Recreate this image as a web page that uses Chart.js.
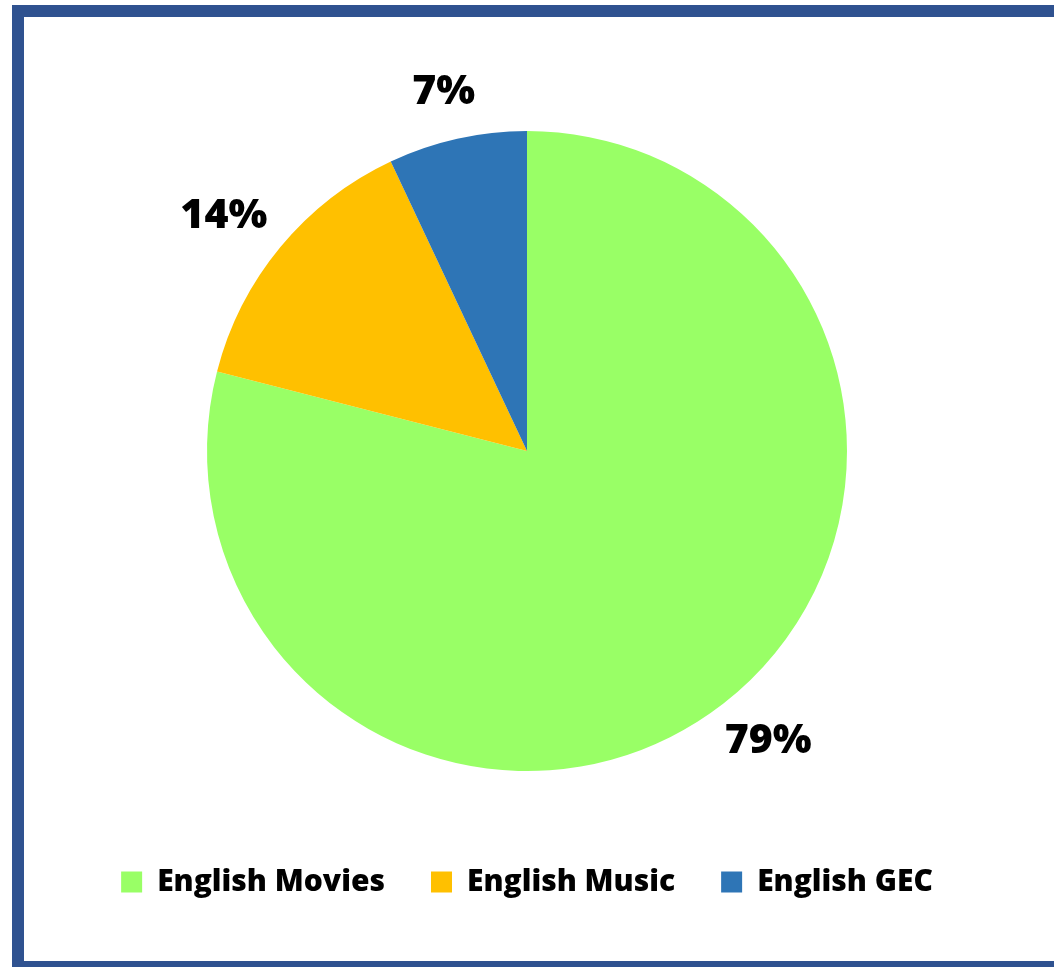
<!DOCTYPE html>
<html>
<head>
<meta charset="utf-8">
<script src="https://cdn.jsdelivr.net/npm/chart.js@4.4.1/dist/chart.umd.min.js"></script>
<style>
  html, body { margin: 0; padding: 0; background: #ffffff; }
  #wrap { position: relative; width: 1054px; height: 967px; }
</style>
</head>
<body>
<div id="wrap"><canvas id="c" width="1054" height="967"></canvas></div>
<script>
// Share of English content by genre
const categories = ['English Movies', 'English Music', 'English GEC'];
const shares = [79, 14, 7];
const sliceColors = ['#99FF66', '#FFC000', '#2E75B6'];

const FONT = "'Open Sans', Lato, sans-serif";

// Frame around the whole figure
const framePlugin = {
  id: 'frame',
  beforeDraw(chart) {
    const ctx = chart.ctx;
    ctx.save();
    ctx.fillStyle = '#ffffff';
    ctx.fillRect(0, 0, chart.width, chart.height);
    ctx.strokeStyle = '#2F5290';
    ctx.lineWidth = 12;
    ctx.strokeRect(18, 11, chart.width + 20, chart.height - 11);
    ctx.restore();
  }
};

// Percentage labels placed just outside each slice
const outsideLabels = {
  id: 'outsideLabels',
  afterDatasetsDraw(chart) {
    const ctx = chart.ctx;
    const meta = chart.getDatasetMeta(0);
    ctx.save();
    ctx.font = '800 41px ' + FONT;
    ctx.fillStyle = '#000000';
    ctx.textAlign = 'center';
    ctx.textBaseline = 'middle';
    meta.data.forEach((arc, i) => {
      const p = arc.getProps(['x', 'y', 'startAngle', 'endAngle', 'outerRadius'], true);
      const mid = (p.startAngle + p.endAngle) / 2;
      const txt = shares[i] + '%';
      const w = ctx.measureText(txt).width;
      const h = 36;
      const d = p.outerRadius + 30;
      const cx = p.x + Math.cos(mid) * d + Math.cos(mid) * w / 2;
      const cy = p.y + Math.sin(mid) * d + Math.sin(mid) * h / 2;
      ctx.fillText(txt, cx, cy);
    });
    ctx.restore();
  }
};

new Chart(document.getElementById('c'), {
  type: 'pie',
  data: {
    labels: categories,
    datasets: [{
      data: shares,
      backgroundColor: sliceColors,
      borderWidth: 0,
      radius: 320
    }]
  },
  options: {
    responsive: false,
    animation: false,
    layout: { padding: { top: 81, bottom: 60, left: 0, right: 0 } },
    plugins: {
      legend: {
        position: 'bottom',
        labels: {
          boxWidth: 21,
          boxHeight: 21,
          padding: 46,
          color: '#000000',
          font: { family: FONT, size: 30, weight: '800' }
        }
      },
      tooltip: { enabled: false }
    }
  },
  plugins: [framePlugin, outsideLabels]
});
</script>
</body>
</html>
